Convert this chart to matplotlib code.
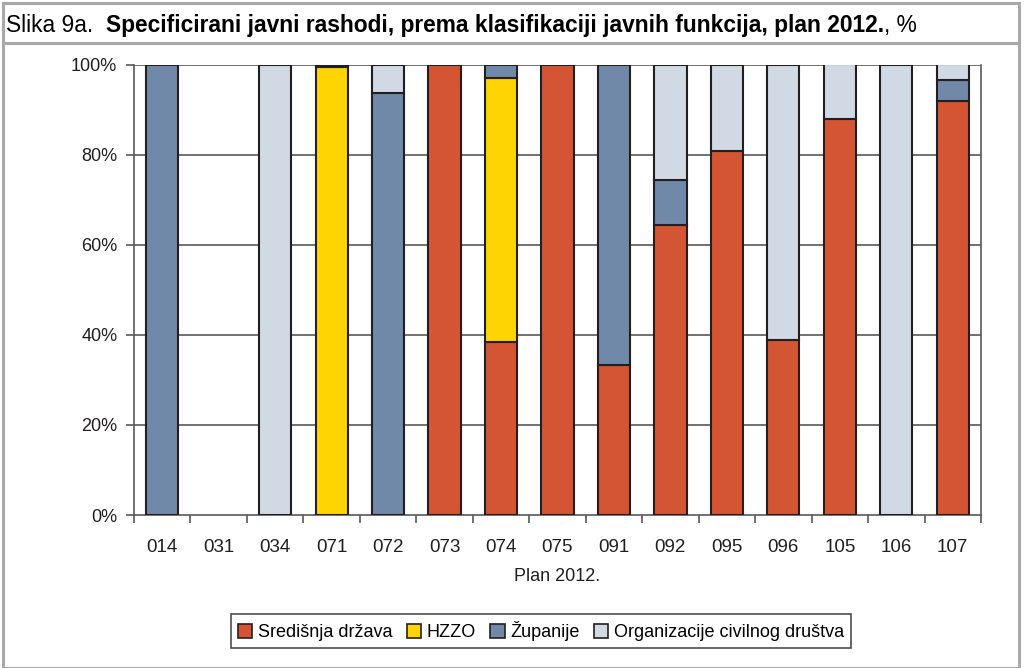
import matplotlib
matplotlib.use("Agg")
import matplotlib.pyplot as plt
import numpy as np
from matplotlib.patches import Rectangle, Patch
from matplotlib.lines import Line2D

categories = ["014", "031", "034", "071", "072", "073", "074", "075",
              "091", "092", "095", "096", "105", "106", "107"]
sredisnja = [0, 0, 0, 0, 0, 100, 38.3, 100, 33.2, 64.3, 80.8, 38.8, 88.0, 0, 92.0]
hzzo      = [0, 0, 0, 99.5, 0, 0, 58.6, 0, 0, 0, 0, 0, 0, 0, 0]
zupanije  = [100, 0, 0, 0.5, 93.6, 0, 3.1, 0, 66.8, 10.1, 0, 0, 0, 0, 4.5]
civilno   = [0, 0, 100, 0, 6.4, 0, 0, 0, 0, 25.6, 19.2, 61.2, 12.0, 100, 3.5]
series_names = ["Središnja država", "HZZO", "Županije", "Organizacije civilnog društva"]
yticks = [0, 20, 40, 60, 80, 100]
colors = ["#D45534", "#FFD400", "#7189A9", "#D1D9E5"]

W, H = 1027, 668
fig = plt.figure(figsize=(W / 100, H / 100), dpi=100)
fig.patch.set_facecolor("white")
plt.rcParams['font.family'] = ['Liberation Sans', 'DejaVu Sans']

# frame
fig.add_artist(Rectangle((3 / W, 0), (1019 - 3) / W, (H - 3) / H, transform=fig.transFigure,
                         fill=False, edgecolor="#A9A9A9", lw=2.2))
fig.add_artist(Line2D([3 / W, 1019 / W], [1 - 43 / H, 1 - 43 / H], transform=fig.transFigure,
                      color="#A9A9A9", lw=2.2))

# title
tfs = 16.4
t1 = fig.text(6 / W, 1 - 32 / H, "Slika 9a.  ", fontsize=tfs, va="baseline", ha="left")
fig.canvas.draw()
r = fig.canvas.get_renderer()
bb = t1.get_window_extent(r)
t2 = fig.text(bb.x1 / W, 1 - 32 / H,
              "Specificirani javni rashodi, prema klasifikaciji javnih funkcija, plan 2012.",
              fontsize=tfs, fontweight="bold", va="baseline", ha="left")
bb2 = t2.get_window_extent(r)
fig.text(bb2.x1 / W, 1 - 32 / H, ", %", fontsize=tfs, va="baseline", ha="left")

ax_l, ax_r, ax_t, ax_b = 134, 981, 64.5, 515
ax = fig.add_axes([ax_l / W, 1 - ax_b / H, (ax_r - ax_l) / W, (ax_b - ax_t) / H])

x = np.arange(len(categories))
bottom = np.zeros(len(categories))
data = [sredisnja, hzzo, zupanije, civilno]
for vals, name, c in zip(data, series_names, colors):
    vals = np.array(vals, dtype=float)
    ec = ["#231F20" if v > 0 else "none" for v in vals]
    ax.bar(x, vals, width=0.57, bottom=bottom, color=c, edgecolor=ec,
           linewidth=1.5, zorder=3)
    bottom += vals

ax.set_xlim(-0.5, len(categories) - 0.5)
ax.set_ylim(0, 100)
ax.set_yticks(yticks)
ax.set_yticklabels([f"{v}%" for v in yticks])
for v in yticks[1:]:
    ax.axhline(v, color="#595959", lw=1.2, zorder=1)

ax.set_xticks(x)
ax.set_xticklabels(categories)
ax.tick_params(axis="x", length=0, pad=17, labelsize=13.5, colors="#231F20")
ax.set_xticks(np.arange(-0.5, len(categories), 1), minor=True)
ax.tick_params(axis="x", which="minor", length=6, width=1.2, direction="out", color="#595959")
ax.tick_params(axis="y", length=6, width=1.2, direction="out", color="#595959",
               labelsize=13, labelcolor="#231F20", pad=6)
for s in ["left", "right", "bottom"]:
    ax.spines[s].set_color("#595959")
    ax.spines[s].set_linewidth(1.2)
ax.spines["top"].set_visible(False)
ax.set_xlabel("Plan 2012.", fontsize=13, labelpad=9, color="#231F20")

handles = [Patch(facecolor=c, edgecolor="#231F20", linewidth=1.2) for c in colors]
leg = fig.legend(handles, series_names, loc="center", bbox_to_anchor=(541 / W, 1 - 631 / H),
                 ncol=4, frameon=True, fontsize=13, handlelength=0.8, handleheight=0.8,
                 handletextpad=0.3, columnspacing=0.8, borderpad=0.4, fancybox=False,
                 edgecolor="#231F20")
leg.get_frame().set_linewidth(1.2)

fig.savefig("out.png", dpi=100)
